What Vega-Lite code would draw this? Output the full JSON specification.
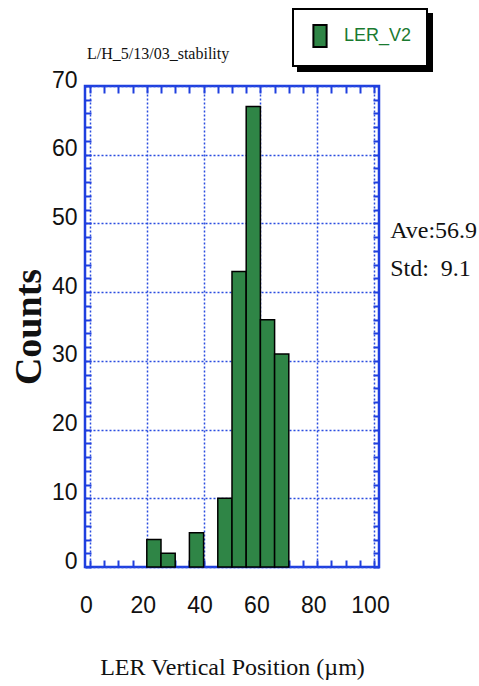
{
  "$schema": "https://vega.github.io/schema/vega-lite/v6.json",
  "width": 294,
  "height": 481,
  "autosize": {"type": "none"},
  "padding": {"left": 85, "top": 86, "right": 100, "bottom": 119},
  "background": "white",
  "config": {
    "view": {"stroke": "#1f3fdf", "strokeWidth": 2.5},
    "legend": {
      "orient": "none",
      "padding": 15,
      "strokeWidth": 2,
      "symbolStrokeWidth": 2,
      "symbolType": "M-0.6,-1H0.6V1H-0.6Z",
      "symbolSize": 484,
      "labelFont": "Liberation Sans Narrow, Liberation Sans",
      "labelFontSize": 18,
      "labelOffset": 12,
      "title": null
    }
  },
  "data": {
    "values": [
      {"bin_start": 20, "bin_end": 25, "count": 4},
      {"bin_start": 25, "bin_end": 30, "count": 2},
      {"bin_start": 35, "bin_end": 40, "count": 5},
      {"bin_start": 45, "bin_end": 50, "count": 10},
      {"bin_start": 50, "bin_end": 55, "count": 43},
      {"bin_start": 55, "bin_end": 60, "count": 67},
      {"bin_start": 60, "bin_end": 65, "count": 36},
      {"bin_start": 65, "bin_end": 70, "count": 31}
    ]
  },
  "resolve": {"axis": {"x": "independent", "y": "independent"}},
  "layer": [
    {
      "mark": {"type": "bar", "stroke": "#000000", "strokeWidth": 1.5, "orient": "vertical"},
      "encoding": {
        "x": {
          "field": "bin_start",
          "type": "quantitative",
          "scale": {"domain": [0, 100], "nice": false, "zero": false},
          "axis": {
            "orient": "bottom",
            "values": [0, 20, 40, 60, 80, 100],
            "grid": true,
            "gridColor": "#2a4de0",
            "gridDash": [2, 2],
            "gridWidth": 1.5,
            "ticks": false,
            "domain": false,
            "labelFont": "Liberation Sans Narrow, Liberation Sans",
            "labelFontSize": 23,
            "labelColor": "#111111",
            "labelPadding": 27,
            "labelOffset": -4,
            "labelFlush": false,
            "title": "LER Vertical Position (µm)",
            "titleFont": "Liberation Serif",
            "titleFontSize": 24,
            "titleFontWeight": "normal",
            "titleColor": "#111111",
            "titlePadding": 38
          }
        },
        "x2": {"field": "bin_end"},
        "y": {
          "field": "count",
          "type": "quantitative",
          "scale": {"domain": [0, 70], "nice": false},
          "axis": {
            "orient": "left",
            "values": [0, 10, 20, 30, 40, 50, 60, 70],
            "grid": true,
            "gridColor": "#2a4de0",
            "gridDash": [2, 2],
            "gridWidth": 1.5,
            "ticks": false,
            "domain": false,
            "labelFont": "Liberation Sans Narrow, Liberation Sans",
            "labelFontSize": 23,
            "labelColor": "#111111",
            "labelPadding": 8,
            "labelOffset": -6,
            "labelFlush": false,
            "title": "Counts",
            "titleFont": "Liberation Serif",
            "titleFontSize": 38,
            "titleFontWeight": "bold",
            "titleColor": "#111111",
            "titlePadding": 3
          }
        },
        "y2": {"datum": 0},
        "color": {
          "datum": "LER_V2",
          "type": "nominal",
          "scale": {"range": ["#2f8546"]},
          "legend": {
            "legendX": 208,
            "legendY": -77,
            "zindex": 2,
            "strokeColor": "#000000",
            "fillColor": "white",
            "symbolStrokeColor": "#000000",
            "labelColor": "#1a7a30"
          }
        }
      }
    },
    {
      "mark": {"type": "bar", "opacity": 0, "orient": "vertical"},
      "encoding": {
        "x": {
          "field": "bin_start",
          "type": "quantitative",
          "axis": {
            "orient": "top",
            "values": [0, 5, 10, 15, 20, 25, 30, 35, 40, 45, 50, 55, 60, 65, 70, 75, 80, 85, 90, 95, 100],
            "grid": false,
            "ticks": true,
            "tickSize": -7,
            "tickWidth": 2,
            "tickColor": "#1f3fdf",
            "labels": false,
            "domain": false,
            "title": null
          }
        },
        "x2": {"field": "bin_end"},
        "y": {
          "field": "count",
          "type": "quantitative",
          "axis": {
            "orient": "right",
            "values": [0, 2, 4, 6, 8, 10, 12, 14, 16, 18, 20, 22, 24, 26, 28, 30, 32, 34, 36, 38, 40, 42, 44, 46, 48, 50, 52, 54, 56, 58, 60, 62, 64, 66, 68, 70],
            "grid": false,
            "ticks": true,
            "tickSize": -6,
            "tickWidth": 2,
            "tickColor": "#1f3fdf",
            "labels": false,
            "domain": false,
            "title": null
          }
        },
        "y2": {"datum": 0}
      }
    },
    {
      "mark": {"type": "bar", "opacity": 0, "orient": "vertical"},
      "encoding": {
        "x": {
          "field": "bin_start",
          "type": "quantitative",
          "axis": {
            "orient": "bottom",
            "values": [0, 5, 10, 15, 20, 25, 30, 35, 40, 45, 50, 55, 60, 65, 70, 75, 80, 85, 90, 95, 100],
            "grid": false,
            "ticks": true,
            "tickSize": -7,
            "tickWidth": 2,
            "tickColor": "#1f3fdf",
            "labels": false,
            "domain": false,
            "title": null
          }
        },
        "x2": {"field": "bin_end"},
        "y": {
          "field": "count",
          "type": "quantitative",
          "axis": {
            "orient": "left",
            "values": [0, 2, 4, 6, 8, 10, 12, 14, 16, 18, 20, 22, 24, 26, 28, 30, 32, 34, 36, 38, 40, 42, 44, 46, 48, 50, 52, 54, 56, 58, 60, 62, 64, 66, 68, 70],
            "grid": false,
            "ticks": true,
            "tickSize": -6,
            "tickWidth": 2,
            "tickColor": "#1f3fdf",
            "labels": false,
            "domain": false,
            "title": null
          }
        },
        "y2": {"datum": 0}
      }
    },
    {
      "data": {"values": [{"k": "shadow"}]},
      "mark": {"type": "point", "opacity": 0, "filled": true, "color": "#000000"},
      "encoding": {
        "x": {"datum": 0, "type": "quantitative", "axis": null},
        "y": {"datum": 0, "type": "quantitative", "axis": null},
        "shape": {
          "field": "k",
          "type": "nominal",
          "scale": {"range": ["M-0.6,-1H0.6V1H-0.6Z"]},
          "legend": {
            "legendX": 213,
            "legendY": -72,
            "zindex": 1,
            "strokeColor": "#000000",
            "fillColor": "#000000",
            "symbolStrokeColor": "#000000",
            "symbolFillColor": "#000000",
            "labelExpr": "''",
            "labelOffset": 80
          }
        }
      }
    },
    {
      "data": {"values": [{"stats": ["Ave:56.9", "Std:\u00a0\u00a09.1"]}]},
      "mark": {
        "type": "text",
        "align": "left",
        "baseline": "alphabetic",
        "font": "Liberation Serif",
        "fontSize": 24,
        "fontWeight": "normal",
        "lineHeight": 38,
        "color": "#111111"
      },
      "encoding": {
        "x": {"datum": 105.7, "type": "quantitative", "axis": null},
        "y": {"datum": 47.9, "type": "quantitative", "axis": null},
        "text": {"field": "stats"}
      }
    },
    {
      "data": {"values": [{"note": "L/H_5/13/03_stability"}]},
      "mark": {
        "type": "text",
        "align": "left",
        "baseline": "alphabetic",
        "font": "Liberation Serif",
        "fontSize": 16,
        "fontWeight": "normal",
        "dx": -3,
        "color": "#111111"
      },
      "encoding": {
        "x": {"datum": 0, "type": "quantitative", "axis": null},
        "y": {"datum": 73.9, "type": "quantitative", "axis": null},
        "text": {"field": "note"}
      }
    }
  ]
}
